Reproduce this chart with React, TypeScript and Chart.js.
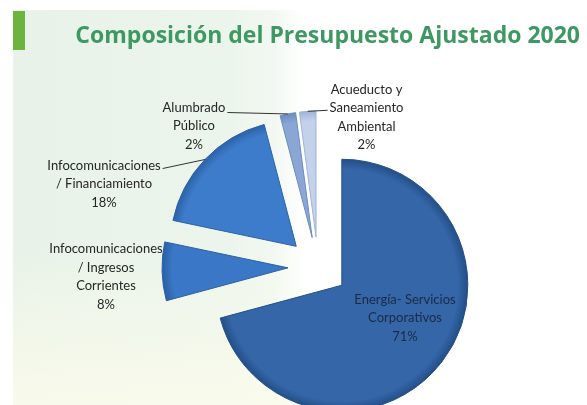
import { useEffect, useRef } from 'react';
import { Chart, PieController, ArcElement, Title } from 'chart.js';

Chart.register(PieController, ArcElement, Title);

// ---- data ----
const TITLE = 'Composición del Presupuesto Ajustado 2020';
const CATEGORIES: string[][] = [
  ['Energía- Servicios', 'Corporativos'],
  ['Infocomunicaciones', '/ Ingresos', 'Corrientes'],
  ['Infocomunicaciones', '/ Financiamiento'],
  ['Alumbrado', 'Público'],
  ['Acueducto y', 'Saneamiento', 'Ambiental'],
];
const VALUES = [70.8, 7.5, 17.6, 2.0, 2.1];
const COLORS = ['#3466a8', '#3a77c6', '#3d7cca', '#8aa6d4', '#c3d1ea'];
const EDGE_COLORS = ['#244f87', '#2a5fa3', '#2c62a8', '#6c8cc0', '#9fb4d8'];

// ---- layout (not data) ----
const RADIUS = 126;
const EXPLODE = 30;
const LINE_H = 18.5;
const LABEL_POS = [
  { dx: 87, dy: 51, color: '#1c2b45' },
  { dx: -212, dy: 10, color: '#262626' },
  { dx: -214, dy: -83, color: '#262626' },
  { dx: -124, dy: -141, color: '#262626' },
  { dx: 48.5, dy: -149.5, color: '#262626' },
];
const LEADERS: ({ line: number; side: 'left' | 'right'; dy: number } | null)[] = [
  null,
  null,
  { line: 0, side: 'right', dy: 3 },
  { line: 0, side: 'right', dy: 5 },
  { line: 1, side: 'left', dy: 2 },
];

const explodePlugin = {
  id: 'explodeSlices',
  beforeDatasetDraw(chart: any, args: any) {
    const ctx = chart.ctx;
    args.meta.data.forEach((el: any) => {
      const mid = (el.startAngle + el.endAngle) / 2;
      ctx.save();
      ctx.translate(Math.cos(mid) * EXPLODE, Math.sin(mid) * EXPLODE);
      el.draw(ctx, chart.chartArea);
      ctx.restore();
    });
    return false;
  },
};

const labelPlugin = {
  id: 'sliceLabels',
  afterDatasetsDraw(chart: any) {
    const meta = chart.getDatasetMeta(0);
    const ctx = chart.ctx;
    const total = VALUES.reduce((a, b) => a + b, 0);
    ctx.save();
    ctx.font = '13px Lato';
    ctx.textAlign = 'center';
    ctx.textBaseline = 'middle';
    meta.data.forEach((el: any, i: number) => {
      const lines = [...CATEGORIES[i], Math.round((VALUES[i] / total) * 100) + '%'];
      const pos = LABEL_POS[i];
      const cx = el.x + pos.dx;
      const cy = el.y + pos.dy;
      const top = cy - ((lines.length - 1) * LINE_H) / 2;
      ctx.fillStyle = pos.color;
      lines.forEach((t, j) => ctx.fillText(t, cx, top + j * LINE_H));
      const ld = LEADERS[i];
      if (ld) {
        const w = ctx.measureText(lines[ld.line]).width;
        const lx = ld.side === 'right' ? cx + w / 2 + 2 : cx - w / 2 - 2;
        const ly = top + ld.line * LINE_H + ld.dy;
        const mid = (el.startAngle + el.endAngle) / 2;
        const r = el.outerRadius + EXPLODE;
        const sx = el.x + Math.cos(mid) * r;
        const sy = el.y + Math.sin(mid) * r;
        ctx.beginPath();
        ctx.strokeStyle = '#333333';
        ctx.lineWidth = 1;
        ctx.moveTo(lx, ly);
        ctx.lineTo(sx, sy);
        ctx.stroke();
      }
    });
    ctx.restore();
  },
};

export default function App() {
  const ref = useRef<HTMLCanvasElement | null>(null);
  useEffect(() => {
    const canvas = ref.current;
    if (!canvas) return;
    const chart = new Chart(canvas, {
      type: 'pie',
      data: {
        labels: CATEGORIES,
        datasets: [
          {
            data: VALUES,
            radius: RADIUS,
            borderWidth: 1,
            borderColor: EDGE_COLORS,
            backgroundColor: (c: any) => {
              const ch = c.chart;
              const area = ch.chartArea;
              const base = COLORS[c.dataIndex];
              if (!area) return base;
              const x = (area.left + area.right) / 2;
              const y = (area.top + area.bottom) / 2;
              const g = ch.ctx.createRadialGradient(x, y, 0, x, y, RADIUS);
              g.addColorStop(0, base);
              g.addColorStop(0.92, base);
              g.addColorStop(1, EDGE_COLORS[c.dataIndex]);
              return g;
            },
          } as any,
        ],
      },
      options: {
        animation: false,
        responsive: false,
        events: [],
        layout: { padding: { left: 56, right: 7, top: 0, bottom: 6.2 } },
        plugins: {
          legend: { display: false },
          tooltip: { enabled: false },
          title: {
            display: true,
            text: TITLE,
            align: 'end',
            color: '#3e9862',
            font: { family: 'Open Sans', size: 23, weight: 'bold', lineHeight: 1.2 },
            padding: { top: 22.6, bottom: 0 },
          },
        },
      } as any,
      plugins: [explodePlugin, labelPlugin],
    });
    return () => chart.destroy();
  }, []);

  return (
    <div
      style={{
        position: 'absolute',
        left: 0,
        top: 0,
        width: 587,
        height: 405,
        overflow: 'hidden',
        background: '#ffffff',
      }}
    >
      <div
        style={{
          position: 'absolute',
          left: 13,
          top: 10,
          width: 290,
          height: 395,
          background:
            'linear-gradient(180deg, rgba(255,255,255,0) 60%, rgba(250,251,236,0.9) 100%), linear-gradient(90deg, #e8f2e8 0%, #ecf5ec 75%, #f2f8f1 90%, rgba(255,255,255,0) 100%)',
        }}
      />
      <div
        style={{
          position: 'absolute',
          left: 13,
          top: 11,
          width: 12,
          height: 39,
          background: '#6db33f',
        }}
      />
      <canvas ref={ref} width={587} height={490} style={{ position: 'absolute', left: 0, top: 0 }} />
    </div>
  );
}
